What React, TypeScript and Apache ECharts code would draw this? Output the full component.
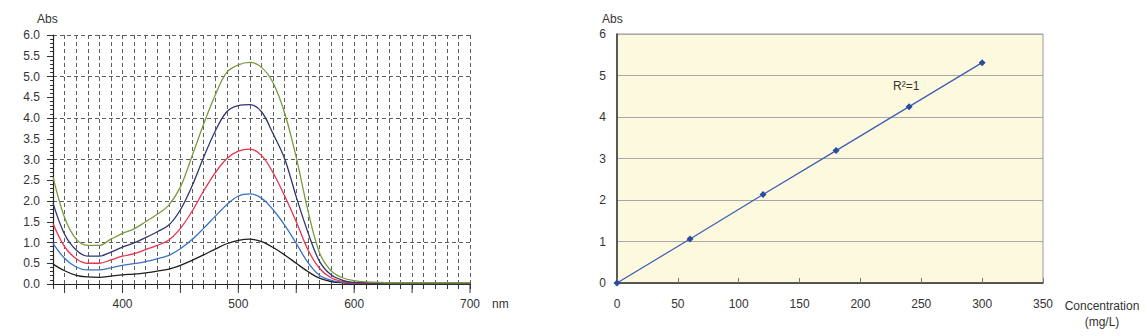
import React, { useEffect, useRef } from "react";
import * as echarts from "echarts";

// ---- Left chart: absorption spectra ----
const wavelengths = [340, 350, 360, 370, 380, 390, 400, 410, 420, 430, 440, 450, 460, 470, 480, 490, 500, 510, 520, 530, 540, 550, 560, 570, 580, 590, 600, 610, 620, 630, 640, 650, 660, 670, 680, 690, 700];
const spec60 = [0.48, 0.32, 0.21, 0.17, 0.16, 0.19, 0.22, 0.24, 0.27, 0.31, 0.36, 0.45, 0.57, 0.70, 0.84, 0.97, 1.05, 1.08, 1.02, 0.88, 0.70, 0.50, 0.30, 0.14, 0.06, 0.03, 0.02, 0.01, 0.01, 0.01, 0.01, 0.01, 0.01, 0.01, 0.01, 0.01, 0.01];
const spec120 = [0.98, 0.62, 0.41, 0.34, 0.34, 0.39, 0.45, 0.49, 0.54, 0.61, 0.69, 0.85, 1.07, 1.34, 1.63, 1.91, 2.12, 2.17, 2.07, 1.79, 1.42, 0.98, 0.52, 0.21, 0.09, 0.04, 0.02, 0.02, 0.01, 0.01, 0.01, 0.01, 0.01, 0.01, 0.01, 0.01, 0.01];
const spec180 = [1.46, 0.90, 0.61, 0.50, 0.50, 0.58, 0.67, 0.73, 0.83, 0.93, 1.06, 1.34, 1.75, 2.24, 2.68, 3.02, 3.20, 3.25, 3.10, 2.68, 2.12, 1.50, 0.83, 0.38, 0.15, 0.06, 0.03, 0.02, 0.02, 0.02, 0.02, 0.02, 0.02, 0.02, 0.02, 0.02, 0.02];
const spec240 = [1.95, 1.20, 0.82, 0.67, 0.67, 0.77, 0.89, 0.99, 1.12, 1.26, 1.42, 1.79, 2.36, 3.05, 3.68, 4.15, 4.30, 4.32, 4.15, 3.62, 3.02, 2.10, 1.25, 0.55, 0.22, 0.09, 0.04, 0.03, 0.02, 0.02, 0.02, 0.02, 0.02, 0.02, 0.02, 0.02, 0.02];
const spec300 = [2.58, 1.60, 1.08, 0.93, 0.93, 1.08, 1.22, 1.33, 1.50, 1.68, 1.90, 2.34, 3.08, 3.85, 4.55, 5.10, 5.28, 5.34, 5.22, 4.85, 4.12, 3.05, 1.78, 0.76, 0.32, 0.15, 0.08, 0.05, 0.04, 0.03, 0.03, 0.03, 0.03, 0.03, 0.03, 0.03, 0.03];
const specColors = ["#1e1e1e", "#3a72c2", "#e8324c", "#2f3472", "#7b9a3c"];
const longTickWavelengths = [350, 400, 450, 500, 550, 600, 650, 700];
const spectrumLabels = [400, 500, 600, 700];

// ---- Right chart: calibration ----
const concentrations = [0, 60, 120, 180, 240, 300];
const absorbances = [0, 1.06, 2.13, 3.19, 4.25, 5.31];
const r2Text = "R\u00B2=1";

const FONT = "'Liberation Sans', Arial, sans-serif";
const TXT = "#333";

export default function App() {
  const ref = useRef<HTMLDivElement>(null);
  useEffect(() => {
    if (!ref.current) return;
    const chart = echarts.init(ref.current, undefined, { renderer: "svg" });
    const specs = [spec60, spec120, spec180, spec240, spec300];
    const gridLine = { show: true, lineStyle: { color: "#5e5e5e", type: [4, 3] as any, width: 1 } };
    const option: any = {
      animation: false,
      textStyle: { fontFamily: FONT },
      grid: [
        { left: 53, top: 35, width: 417, height: 249, show: false },
        {
          left: 617, top: 34, width: 426, height: 249, show: true,
          backgroundColor: "#fdf9df", borderColor: "#999", borderWidth: 1,
        },
      ],
      xAxis: [
        {
          type: "value", gridIndex: 0, min: 340, max: 700, interval: 10,
          axisLine: { show: true, lineStyle: { color: "#222", width: 1.2 } },
          axisTick: { show: true, inside: false, length: 5, lineStyle: { color: "#333" } },
          axisLabel: {
            margin: 14, color: TXT, fontSize: 12, fontFamily: FONT,
            formatter: (v: number) => (spectrumLabels.indexOf(v) >= 0 ? String(v) : ""),
          },
          splitLine: gridLine,
        },
        {
          type: "value", gridIndex: 1, min: 0, max: 350, interval: 50,
          axisLine: { show: true, lineStyle: { color: "#333", width: 1.5 } },
          axisTick: { show: true, inside: true, length: 5, lineStyle: { color: "#777" } },
          axisLabel: { margin: 15, color: TXT, fontSize: 12, fontFamily: FONT },
          splitLine: { show: false },
        },
      ],
      yAxis: [
        {
          type: "value", gridIndex: 0, min: 0, max: 6, interval: 0.5,
          axisLine: { show: true, lineStyle: { color: "#222", width: 1.2 } },
          axisTick: { show: true, length: 6, lineStyle: { color: "#333" } },
          minorTick: { show: true, splitNumber: 5, length: 3, lineStyle: { color: "#333" } },
          axisLabel: { margin: 13, color: TXT, fontSize: 12, fontFamily: FONT, formatter: (v: number) => v.toFixed(1) },
          splitLine: { show: false },
        },
        {
          type: "value", gridIndex: 0, min: 0, max: 6, interval: 1,
          axisLine: { show: false }, axisTick: { show: false }, axisLabel: { show: false },
          splitLine: gridLine,
        },
        {
          type: "value", gridIndex: 1, min: 0, max: 6, interval: 1,
          axisLine: { show: true, lineStyle: { color: "#333", width: 1.5 } },
          axisTick: { show: false },
          axisLabel: { margin: 11, color: TXT, fontSize: 12, fontFamily: FONT },
          splitLine: { show: true, lineStyle: { color: "#a8a8a8", width: 1.2 } },
        },
      ],
      series: [
        ...specs.map((s, i) => ({
          type: "line", xAxisIndex: 0, yAxisIndex: 0, smooth: 0.35, showSymbol: false,
          data: s.map((v, k) => [wavelengths[k], v]),
          lineStyle: { color: specColors[i], width: 1.3 },
          z: 3 + i,
        })),
        {
          type: "custom", xAxisIndex: 0, yAxisIndex: 0, clip: false,
          data: longTickWavelengths.map((w) => [w, 0]),
          encode: { x: 0, y: 1 },
          renderItem: (params: any, api: any) => {
            const p = api.coord([api.value(0), 0]);
            return {
              type: "line",
              shape: { x1: p[0], y1: p[1], x2: p[0], y2: p[1] + 9 },
              style: { stroke: "#333", lineWidth: 1 },
            };
          },
          z: 2,
        },
        {
          type: "line", xAxisIndex: 1, yAxisIndex: 2,
          data: concentrations.map((c, i) => [c, absorbances[i]]),
          symbol: "diamond", symbolSize: 7, showSymbol: true,
          itemStyle: { color: "#2d4b9e" },
          lineStyle: { color: "#3a5cb4", width: 1.2 },
          clip: false,
          z: 5,
        },
      ],
      graphic: [
        { type: "text", left: 37, top: 13, style: { text: "Abs", fill: TXT, font: `12px ${FONT}` } },
        { type: "text", left: 492, top: 298, style: { text: "nm", fill: TXT, font: `12px ${FONT}` } },
        { type: "text", left: 602, top: 13, style: { text: "Abs", fill: TXT, font: `12px ${FONT}` } },
        { type: "text", left: 893, top: 80, style: { text: r2Text, fill: TXT, font: `12px ${FONT}` } },
        {
          type: "text", x: 1102, y: 298,
          style: { text: "Concentration\n(mg/L)", fill: TXT, font: `12px ${FONT}`, align: "center", lineHeight: 16 },
        },
      ],
    };
    chart.setOption(option);
    return () => chart.dispose();
  }, []);
  return <div ref={ref} style={{ position: "absolute", left: 0, top: 0, width: 1147, height: 336, background: "#fff" }} />;
}
